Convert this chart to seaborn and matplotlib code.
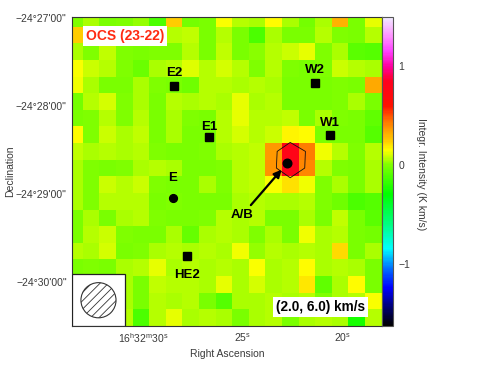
import numpy as np
import seaborn as sns
import matplotlib
matplotlib.use("Agg")
import matplotlib.pyplot as plt
from matplotlib.colors import LinearSegmentedColormap
from matplotlib.patches import Circle, Rectangle
from matplotlib.ticker import FixedLocator, MultipleLocator

# OCS (23-22) integrated intensity, K km/s, one value per map pixel (top row first)
ocs_map = [
    [0.0, 0.05, -0.02, 0.0, 0.02, -0.12, 0.24, -0.03, -0.02, 0.14, 0.06, 0.05, 0.15, 0.04, -0.03, 0.05, 0.3, -0.02, 0.12],
    [0.24, 0.05, 0.06, 0.0, 0.05, -0.02, 0.06, 0.07, -0.02, 0.06, -0.02, -0.12, 0.05, -0.01, -0.02, 0.06, 0.0, -0.01, 0.06],
    [0.05, 0.0, 0.07, 0.0, -0.02, 0.0, 0.0, 0.06, -0.01, 0.07, -0.02, 0.01, 0.06, 0.08, 0.12, 0.0, 0.05, -0.09, -0.1],
    [0.14, 0.08, 0.06, 0.0, -0.05, 0.05, 0.06, 0.11, 0.06, 0.09, 0.06, 0.0, 0.06, 0.0, -0.01, 0.0, 0.08, 0.06, 0.05],
    [0.13, 0.05, -0.01, -0.02, 0.05, 0.0, -0.01, -0.04, 0.06, 0.06, 0.05, 0.06, 0.05, -0.01, -0.02, -0.01, 0.0, -0.02, 0.32],
    [-0.03, 0.06, 0.09, 0.0, 0.05, -0.02, 0.06, 0.05, 0.06, 0.05, 0.12, 0.05, 0.06, -0.01, -0.02, -0.01, 0.0, 0.05, -0.01],
    [-0.02, 0.0, 0.06, 0.0, 0.06, -0.01, 0.05, 0.0, -0.01, 0.06, 0.12, 0.06, 0.06, 0.07, -0.01, 0.05, 0.0, -0.02, -0.08],
    [0.15, 0.0, 0.08, 0.05, 0.07, -0.01, 0.05, -0.01, -0.02, 0.06, 0.09, 0.06, 0.08, 0.17, 0.15, -0.01, -0.01, -0.02, -0.1],
    [0.07, 0.05, 0.06, 0.05, 0.06, 0.0, -0.01, -0.01, 0.0, 0.05, 0.06, 0.07, 0.36, 0.78, 0.42, 0.13, 0.06, 0.0, 0.06],
    [0.05, 0.0, -0.01, 0.0, 0.05, 0.06, 0.05, -0.01, -0.02, 0.0, 0.06, 0.07, 0.38, 0.8, 0.4, 0.06, 0.0, -0.01, 0.05],
    [0.05, 0.0, 0.08, 0.06, 0.08, 0.0, -0.01, -0.02, 0.05, 0.0, 0.06, 0.07, 0.14, 0.2, 0.13, 0.0, 0.05, -0.01, 0.05],
    [0.05, 0.0, 0.06, 0.06, 0.06, -0.01, 0.0, -0.02, -0.01, -0.02, 0.05, 0.06, 0.05, 0.05, 0.06, 0.0, -0.04, -0.12, -0.1],
    [-0.01, 0.05, -0.02, 0.05, 0.06, 0.0, -0.01, -0.01, 0.0, 0.06, 0.05, 0.06, -0.01, -0.02, 0.05, -0.01, 0.07, -0.02, -0.09],
    [-0.01, 0.06, 0.08, 0.0, -0.02, -0.01, 0.05, -0.06, 0.05, 0.06, 0.05, 0.0, 0.05, -0.01, 0.13, 0.05, 0.06, -0.02, -0.03],
    [0.06, 0.05, 0.1, -0.01, 0.0, 0.05, 0.06, 0.05, 0.06, 0.05, 0.13, 0.02, 0.06, 0.05, 0.06, 0.05, 0.22, -0.02, 0.05],
    [-0.01, 0.0, -0.01, 0.05, 0.06, 0.12, 0.05, 0.06, 0.05, 0.06, 0.05, 0.14, 0.05, 0.06, 0.15, 0.05, 0.06, 0.05, -0.02],
    [0.05, 0.06, 0.05, 0.05, -0.02, 0.07, 0.06, 0.06, 0.05, 0.12, 0.05, 0.1, 0.05, 0.06, 0.19, -0.07, 0.05, 0.15, -0.02],
    [0.05, 0.0, -0.01, 0.05, -0.02, 0.06, 0.05, 0.06, -0.01, -0.1, 0.05, 0.05, 0.06, 0.05, 0.06, 0.0, 0.05, 0.06, 0.14],
    [0.05, 0.06, 0.05, 0.06, -0.13, 0.06, 0.12, 0.05, 0.06, 0.05, -0.01, 0.05, 0.06, -0.01, 0.05, 0.06, 0.05, -0.25, 0.06],
]

# axis ticks: RA seconds after 16h32m, Dec arcsec south of -24d27m00s
ra_major = [30, 25, 20]
ra_labels = [r"16$^{\rm h}$32$^{\rm m}$30$^{\rm s}$", r"25$^{\rm s}$", r"20$^{\rm s}$"]
ra_minor = list(range(19, 34))
dec_major = [0, 60, 120, 180]
dec_labels = ["\u221224\u00b027'00\"", "\u221224\u00b028'00\"", "\u221224\u00b029'00\"", "\u221224\u00b030'00\""]
dec_minor = list(range(0, 210, 10))

# sources: name, RA seconds, Dec arcsec offset
src_names = ["E2", "E1", "W2", "W1", "E", "HE2"]
src_ra = [28.46, 26.71, 21.37, 20.60, 28.52, 27.83]
src_dec = [46.1, 81.0, 43.9, 79.4, 122.5, 162.3]
src_marker = ["s", "s", "s", "s", "o", "s"]
ab_ra, ab_dec = 22.78, 98.9

beam_fwhm = 24.0   # arcsec
contour_level = 0.45

# colour scale
vmin, vmax = -1.63, 1.49
cbar_values = [-1.63, -1.45, -1.25, -1.05, -0.85, -0.6, -0.3, 0.0, 0.08, 0.15, 0.25, 0.35, 0.45, 0.6, 0.85, 1.0, 1.15, 1.3, 1.49]
cbar_colors = ["#000000", "#00006e", "#0000ff", "#0070ff", "#00ffff", "#00ff80", "#00ff00", "#80ff00", "#c8ff00",
               "#ffff00", "#ffc800", "#ffa000", "#ff7000", "#ff1000", "#ff0020", "#ff00a0", "#ff40ff", "#ff90ff", "#f0e8ff"]


def ra_to_x(s):
    return 4.651 + (30.0 - s) * 1.199


def dec_to_y(a):
    return 0.506 + a * 0.0881


sns.set_style("ticks")
plt.rcParams['font.family'] = ['Liberation Sans', 'DejaVu Sans']
plt.rcParams['mathtext.fontset'] = 'custom'
plt.rcParams['mathtext.rm'] = 'Liberation Sans'
plt.rcParams['hatch.linewidth'] = 0.6

W, H = 503, 367
fig = plt.figure(figsize=(W / 100, H / 100), dpi=100)
ax = fig.add_axes([72.3 / W, 1 - 326 / H, (381.5 - 72.3) / W, (326 - 17.3) / H])
cax = fig.add_axes([381.8 / W, 1 - 326 / H, 11.2 / W, (326 - 17.3) / H])

nodes = [(v - vmin) / (vmax - vmin) for v in cbar_values]
cmap = LinearSegmentedColormap.from_list("pg", list(zip(nodes, cbar_colors)))

data = np.array(ocs_map)
sns.heatmap(data, ax=ax, cmap=cmap, vmin=vmin, vmax=vmax, cbar_ax=cax,
            cbar_kws={'ticks': [-1, 0, 1]}, xticklabels=False, yticklabels=False)

n = data.shape[0]
ax.contour(np.arange(n) + 0.5, np.arange(n) + 0.5, data, levels=[contour_level],
           colors='#111111', linewidths=0.6)

ax.set_xlim(0.373, 19.0)
ax.set_ylim(19.0, 0.434)

for s in ax.spines.values():
    s.set_visible(True)
    s.set_color('#333333')
    s.set_linewidth(0.8)

ax.xaxis.set_major_locator(FixedLocator([ra_to_x(s) for s in ra_major]))
ax.xaxis.set_minor_locator(FixedLocator([ra_to_x(s) for s in ra_minor]))
ax.set_xticklabels(ra_labels)
ax.yaxis.set_major_locator(FixedLocator([dec_to_y(a) for a in dec_major]))
ax.yaxis.set_minor_locator(FixedLocator([dec_to_y(a) for a in dec_minor]))
ax.set_yticklabels(dec_labels, rotation=0)
ax.tick_params(which='both', direction='in', top=True, right=True, bottom=True, left=True,
               labeltop=False, labelright=False, color='#222222', width=0.7,
               labelsize=7.5, labelcolor='#3a3a3a')
ax.tick_params(which='major', length=5, pad=4)
ax.tick_params(which='minor', length=3)

# sources
label_dy = [9.5, 7, 9, 8.5, 14, -13.5]
for name, ra, dec, mk, dy in zip(src_names, src_ra, src_dec, src_marker, label_dy):
    x, y = ra_to_x(ra), dec_to_y(dec)
    ax.plot(x, y, mk, color='black', ms=5.6, zorder=5)
    ax.annotate(name, (x, y), xytext=(0, dy), textcoords='offset points', ha='center', va='center',
                fontsize=9.5, fontweight='bold', color='black', zorder=6)

xab, yab = ra_to_x(ab_ra), dec_to_y(ab_dec)
ax.plot(xab, yab, 'o', color='black', ms=6.2, zorder=5)
ax.annotate('A/B', (xab, yab), xytext=(-32.5, -37.5), textcoords='offset points', ha='center', va='center',
            fontsize=9.5, fontweight='bold', color='black', zorder=6,
            arrowprops=dict(arrowstyle='-|>', color='black', lw=1.6, shrinkA=1, shrinkB=6, mutation_scale=11))

# beam inset
ax.add_patch(Rectangle((0, 0), 0.169, 0.1675, transform=ax.transAxes, facecolor='white',
                       edgecolor='#222222', linewidth=0.9, zorder=4))
ax.add_patch(Circle((1.95, 17.45), beam_fwhm / 2 * 0.0881, facecolor='white', edgecolor='#333333',
                    linewidth=0.8, hatch='////', zorder=5))

ax.text(0.171, 0.940, 'OCS (23-22)', transform=ax.transAxes, ha='center', va='center', fontsize=10,
        fontweight='bold', color='#ff2a12', zorder=7,
        bbox=dict(boxstyle='square,pad=0.22', facecolor='white', edgecolor='none'))
ax.text(0.8015, 0.0606, '(2.0, 6.0) km/s', transform=ax.transAxes, ha='center', va='center', fontsize=9.8,
        fontweight='bold', color='black', zorder=7,
        bbox=dict(boxstyle='square,pad=0.22', facecolor='white', edgecolor='none'))

# colorbar
cb = ax.collections[0].colorbar
cb.outline.set_linewidth(0.8)
cb.outline.set_edgecolor('#555555')
cax.yaxis.set_minor_locator(MultipleLocator(0.2))
cax.tick_params(which='both', direction='in', right=True, left=False, color='#222222', width=0.7,
                labelsize=7.5, labelcolor='#3a3a3a')
cax.tick_params(which='major', length=4.5, pad=4)
cax.tick_params(which='minor', length=2.5)

fig.text(10 / W, 1 - 171.6 / H, 'Declination', rotation=90, ha='center', va='center', fontsize=7.5, color='#3a3a3a')
fig.text(227 / W, 1 - 354 / H, 'Right Ascension', ha='center', va='center', fontsize=7.5, color='#3a3a3a')
fig.text(421 / W, 1 - 174 / H, 'Integr. Intensity (K km/s)', rotation=270, ha='center', va='center',
         fontsize=7.5, color='#3a3a3a')

fig.savefig('out.png', dpi=100)
